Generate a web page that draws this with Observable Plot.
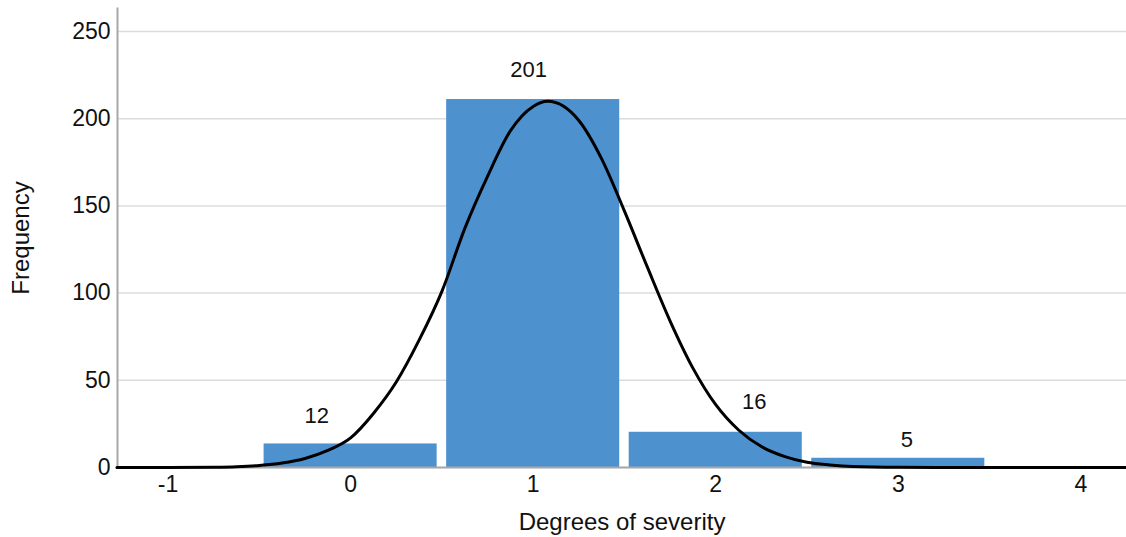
<!DOCTYPE html>
<html>
<head>
<meta charset="utf-8">
<script src="https://cdn.jsdelivr.net/npm/d3@7"></script>
<script src="https://cdn.jsdelivr.net/npm/@observablehq/plot@0.6"></script>
<style>
  html, body { margin: 0; padding: 0; background: #fff; }
  #chart svg { display: block; }
</style>
</head>
<body>
<div id="chart"></div>
<script>
// Categories (degrees of severity)
const degrees = [0, 1, 2, 3];
// Bar heights as drawn in the picture
const barHeights = [13.5, 211, 20.2, 5.3];
// Value labels printed above the bars
const barLabels = ["12", "201", "16", "5"];
// Fitted curve: x positions and frequencies
const curveX = [-1.28, -1, -0.75, -0.625, -0.5, -0.375, -0.25, -0.125, 0, 0.125, 0.25, 0.375, 0.5, 0.625, 0.75, 0.875, 1, 1.08, 1.25, 1.375, 1.5, 1.625, 1.75, 1.875, 2, 2.125, 2.25, 2.375, 2.5, 2.625, 2.75, 3, 3.5, 4.25];
const curveY = [0, 0, 0.2, 0.5, 1.2, 2.6, 5.2, 9.8, 17, 31, 49, 73, 101, 137, 167, 193, 207, 210, 199, 177, 147, 115, 84, 57, 36, 21.5, 12, 6.4, 3, 1.5, 0.6, 0.1, 0, 0];
// Tick labels
const xTicks = [-1, 0, 1, 2, 3, 4];
const yTicks = [0, 50, 100, 150, 200, 250];

const bars = degrees.map((d, i) => ({degree: d, h: barHeights[i], label: barLabels[i]}));
const curve = curveX.map((x, i) => ({x, y: curveY[i]}));

// label offsets (px) relative to bar top centre
const labelOffsets = [[-34, -28], [-4.5, -30], [38.5, -30], [8.5, -18]];

const font = "'Liberation Sans', Arial, sans-serif";

const chart = Plot.plot({
  width: 1126,
  height: 537,
  marginLeft: 117,
  marginRight: 0,
  marginTop: 8,
  marginBottom: 70,
  style: {fontFamily: font, fontSize: "23px", color: "#111", background: "#fff"},
  x: {domain: [-1.277, 4.25]},
  y: {domain: [0, 263.2]},
  marks: [
    Plot.gridY(yTicks, {stroke: "#dcdcdc", strokeOpacity: 1, strokeWidth: 1.5}),
    Plot.rectY(bars, {
      x1: d => d.degree - 0.5,
      x2: d => d.degree + 0.5,
      y: "h",
      insetLeft: 4.75,
      insetRight: 4.75,
      fill: "#4e91cf"
    }),
    Plot.frame({anchor: "left", stroke: "#a8a8a8", strokeWidth: 2}),
    Plot.frame({anchor: "bottom", stroke: "#a8a8a8", strokeWidth: 2}),
    Plot.line(curve, {x: "x", y: "y", curve: "monotone-x", stroke: "#000", strokeWidth: 3}),
    ...bars.map((b, i) => Plot.text([b], {
      x: "degree", y: "h", text: "label",
      dx: labelOffsets[i][0], dy: labelOffsets[i][1],
      fontSize: 22, fill: "#111", textAnchor: "middle", lineAnchor: "middle"
    })),
    Plot.axisX(xTicks, {
      tickSize: 0, tickPadding: 8, fontSize: 23, tickFormat: d => String(d),
      label: null
    }),
    Plot.axisX({
      ticks: [], tickSize: 0, fontSize: 24,
      label: "Degrees of severity", labelAnchor: "center", labelArrow: "none", labelOffset: 62
    }),
    Plot.axisY(yTicks, {
      tickSize: 0, tickPadding: 7, fontSize: 23, tickFormat: d => String(d),
      label: null
    }),
    Plot.axisY({
      ticks: [], tickSize: 0, fontSize: 24,
      label: "Frequency", labelAnchor: "center", labelArrow: "none", labelOffset: 106
    })
  ]
});
document.getElementById("chart").appendChild(chart);
</script>
</body>
</html>
